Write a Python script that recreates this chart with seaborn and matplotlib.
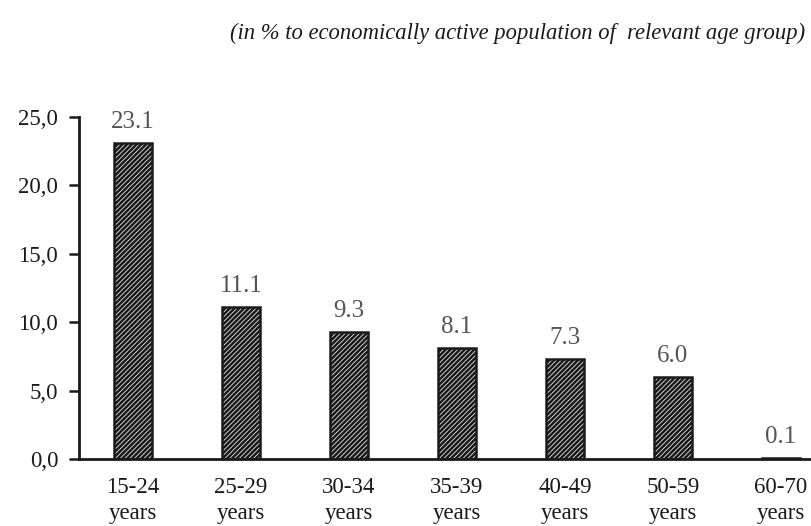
import matplotlib
matplotlib.use("Agg")
import matplotlib.pyplot as plt
import seaborn as sns
import pandas as pd

sns.set_style("white")
plt.rcParams["font.family"] = ["Liberation Serif", "DejaVu Serif"]
plt.rcParams["hatch.linewidth"] = 1.9

age_groups = ["15-24\nyears", "25-29\nyears", "30-34\nyears", "35-39\nyears",
              "40-49\nyears", "50-59\nyears", "60-70\nyears"]
rates = [23.1, 11.1, 9.3, 8.1, 7.3, 6.0, 0.1]
y_ticks = [0, 5, 10, 15, 20, 25]

df = pd.DataFrame({"age": age_groups, "rate": rates})

fig = plt.figure(figsize=(8.12, 5.26), dpi=100)
ax = fig.add_axes([79 / 812, 1 - 459 / 526, 756 / 812, 342 / 526])

sns.barplot(data=df, x="age", y="rate", color="white", edgecolor="#1a1a1a",
            linewidth=1.8, width=0.36, ax=ax)
for p in ax.patches:
    p.set_hatch("///////")

ax.bar_label(ax.containers[0], labels=[f"{v:.1f}" for v in rates],
             padding=7, fontsize=18, color="#555555")

ax.set_xlim(-0.5, 6.5)
ax.set_ylim(0, 25)
ax.set_yticks(y_ticks)
ax.set_yticklabels([f"{t:.1f}".replace(".", ",") for t in y_ticks], fontsize=16.5, color="#1a1a1a")
ax.set_xticks(range(len(age_groups)))
ax.set_xticklabels(age_groups, fontsize=16.5, color="#1a1a1a", linespacing=1.3)
ax.set_xticks([i - 0.5 for i in range(1, len(age_groups))], minor=True)
ax.tick_params(axis="x", which="major", length=0, pad=13)
ax.tick_params(axis="x", which="minor", length=7, width=1.8, direction="out", color="#1a1a1a")
ax.tick_params(axis="y", length=7, width=1.8, direction="out", color="#1a1a1a", pad=8, left=True)
ax.set_xlabel("")
ax.set_ylabel("")

for side in ["top", "right"]:
    ax.spines[side].set_visible(False)
for side in ["left", "bottom"]:
    ax.spines[side].set_linewidth(2)
    ax.spines[side].set_color("#1a1a1a")

fig.text(805 / 812, 1 - 33 / 526, "(in % to economically active population of  relevant age group)",
         ha="right", va="center", fontsize=16.3, style="italic", color="#1a1a1a")

fig.savefig("out.png", dpi=100)
